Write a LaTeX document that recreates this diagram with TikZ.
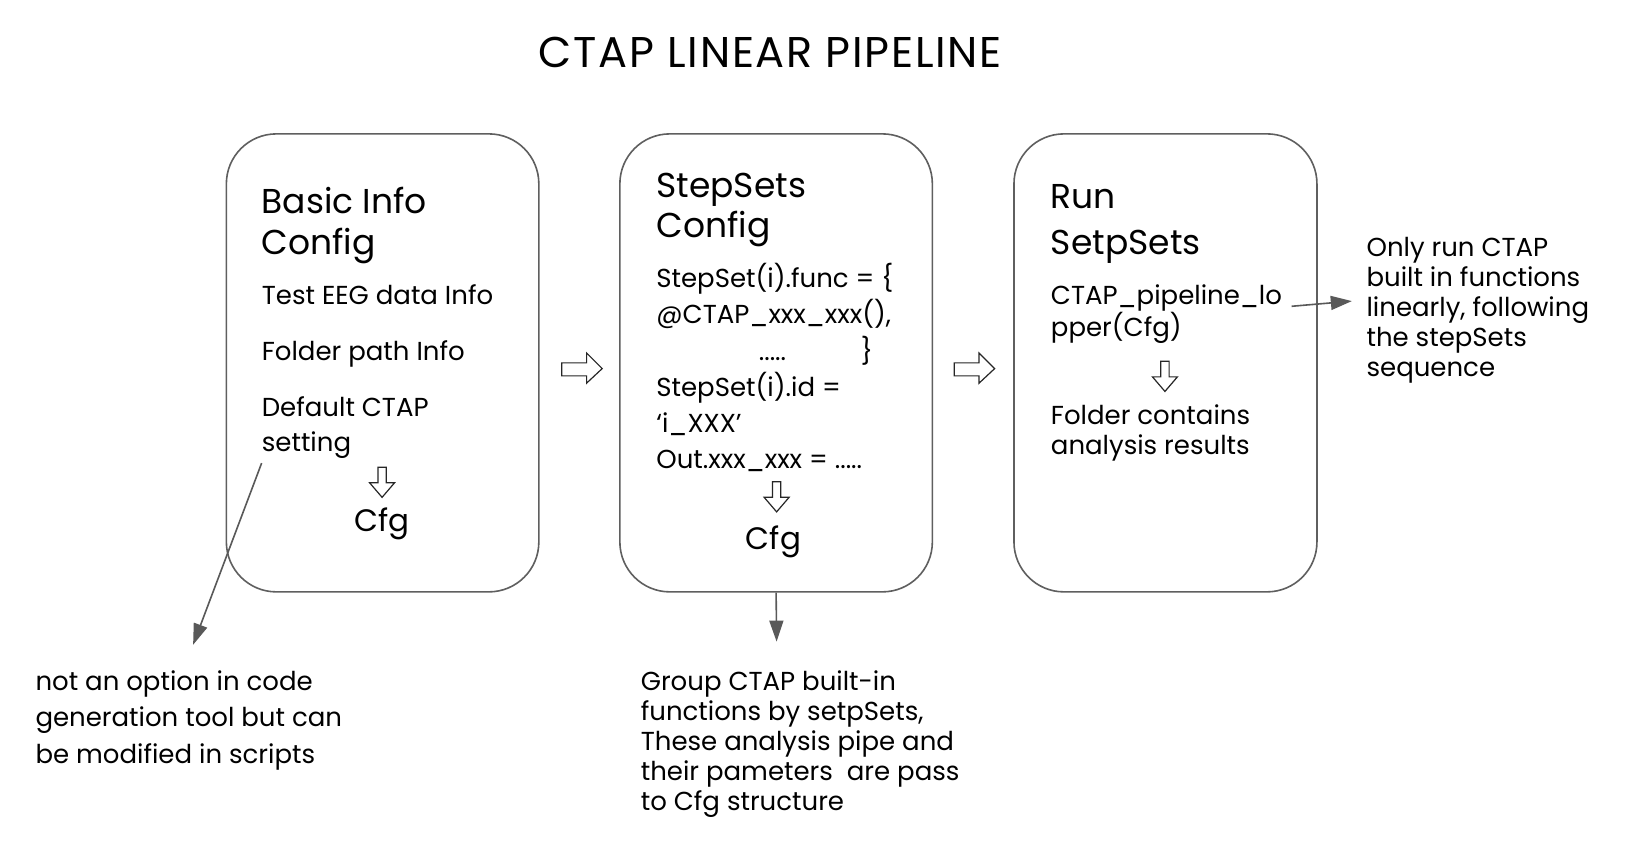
\documentclass[tikz,border=0pt]{standalone}
\usepackage{fontspec}
\setmainfont{Poppins}
\usetikzlibrary{arrows.meta}
\definecolor{boxgray}{HTML}{5F5F5F}
\definecolor{arrgray}{HTML}{595959}
\begin{document}
\begin{tikzpicture}[x=1.0383pt,y=-1.0383pt,
  box/.style={draw=boxgray, line width=1.6pt, rounded corners=50pt, minimum width=312.5pt, minimum height=458pt, inner sep=0},
  hd/.style={anchor=base west, font=\fontsize{34.5}{40.5}\selectfont, align=left, inner sep=0},
  hdc/.style={anchor=base, font=\fontsize{31}{40.5}\selectfont, inner sep=0},
  bt/.style={anchor=base west, font=\fontsize{26}{36.1}\selectfont, align=left, inner sep=0},
  note/.style={anchor=base west, font=\fontsize{26}{30.1}\selectfont, align=left, inner sep=0},
  conn/.style={draw=arrgray, line width=1.6pt, -{Triangle[length=21pt,width=14pt]}},
  hollow/.style={draw=black!85, line width=1.2pt, fill=white, line join=miter}
]
\useasboundingbox (0,0) rectangle (1568,826);
\fill[white] (0,0) rectangle (1568,826);

\node[anchor=base, font=\fontsize{43}{48}\selectfont\addfontfeature{LetterSpace=4}, inner sep=0] (title) at (742,65) {CTAP LINEAR PIPELINE};

% boxes
\node[box] (b1) at (368.5,349.5) {};
\node[box] (b2) at (747.5,349.5) {};
\node[box, minimum width=303pt] (b3) at (1122.5,349.5) {};

% box 1
\node[hd] (h1) at (252,245) {Basic Info\\Config};
\node[bt] (t11) at (252,293) {Test EEG data Info};
\node[bt] (t12) at (252,347) {Folder path Info};
\node[bt, font=\fontsize{26}{35.3}\selectfont] (t13) at (252,435) {Default CTAP\\setting};
\draw[hollow] (364,450) -- (372,450) -- (372,465) -- (380,465) -- (368,479) -- (356,465) -- (364,465) -- cycle;
\node[hdc] (cfg1) at (368,512) {Cfg};

% box 2
\node[hd] (h2) at (632,229) {StepSets\\Config};
\node[bt] (t21) at (632,312) {StepSet(i).func = \{\\@CTAP\_xxx\_xxx(),};
\node[bt, anchor=base] (t22) at (744,347) {.....};
\node[bt, anchor=base] (t23) at (835,347) {\}};
\node[bt] (t24) at (632,451) {StepSet(i).id =\\‘i\_XXX’\\Out.xxx\_xxx = .....};
\draw[hollow] (744,464) -- (752,464) -- (752,479) -- (760,479) -- (748,493) -- (736,479) -- (744,479) -- cycle;
\node[hdc] (cfg2) at (745,529) {Cfg};

% box 3
\node[hd, font=\fontsize{34.5}{45.7}\selectfont] (h3) at (1012,245) {Run\\SetpSets};
\node[note] (t31) at (1012,324) {CTAP\_pipeline\_lo\\pper(Cfg)};
\draw[hollow] (1118,348) -- (1126,348) -- (1126,363) -- (1134,363) -- (1122,377) -- (1110,363) -- (1118,363) -- cycle;
\node[note] (t32) at (1012,438) {Folder contains\\analysis results};

% hollow arrows between boxes
\draw[hollow] (541,349.5) -- (565,349.5) -- (565,340) -- (580,355) -- (565,369) -- (565,362) -- (541,362) -- cycle;
\draw[hollow] (919,349.5) -- (943,349.5) -- (943,340) -- (958,355) -- (943,369) -- (943,362) -- (919,362) -- cycle;

% notes
\node[note] (n3) at (1316,363) {Only run CTAP\\built in functions\\linearly, following\\the stepSets\\sequence};
\node[note, font=\fontsize{26}{36.3}\selectfont] (n1) at (34,735) {not an option in code\\generation tool but can\\be modified in scripts};
\node[note] (n2) at (617,781) {Group CTAP built-in\\functions by setpSets,\\These analysis pipe and\\their pameters\ \ are pass\\to Cfg structure};

% connectors
\coordinate (c1s) at (252,446);
\coordinate (c1e) at (186,621);
\coordinate (c2e) at (748,618);
\coordinate (c3s) at (1244,295);
\coordinate (c3e) at (1302,290);
\draw[conn] (c1s) -- (c1e);
\draw[conn] (b2.south) -- (c2e);
\draw[conn] (c3s) -- (c3e);
\end{tikzpicture}
\end{document}
